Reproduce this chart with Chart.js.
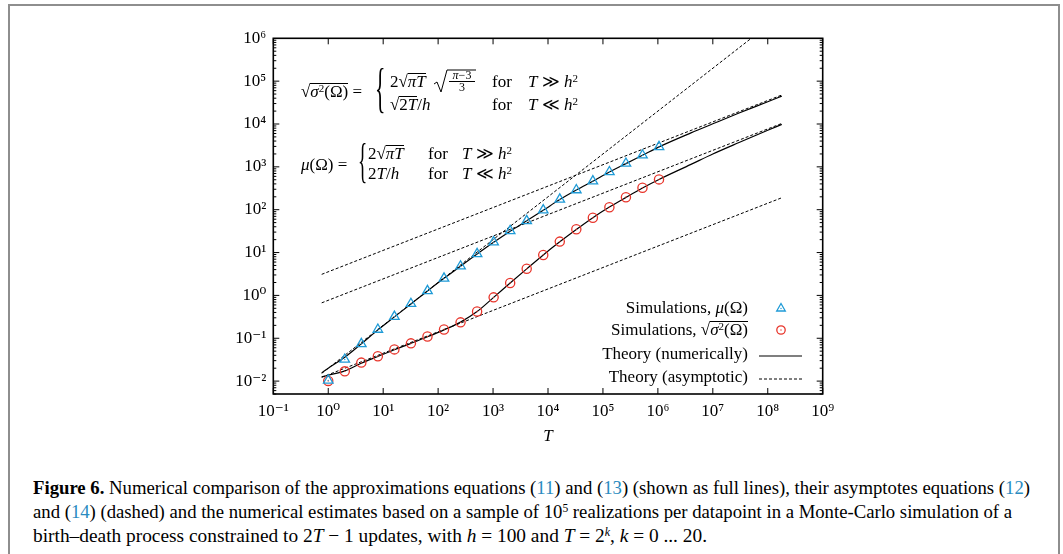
<!DOCTYPE html>
<html>
<head>
<meta charset="utf-8">
<script src="https://cdn.jsdelivr.net/npm/chart.js@4.4.1/dist/chart.umd.min.js"></script>
<style>
  body { margin: 0; background: #fff; }
  #page { position: relative; width: 1063px; height: 554px; overflow: hidden; font-family: "Liberation Serif", "Times New Roman", "DejaVu Serif", serif; color: #000; }
  #frame { position: absolute; left: 8px; top: 4px; width: 1048px; height: 600px; border: 2px solid #8e8e8e; }
  #myChart { position: absolute; left: 0; top: 0; }
  .m { position: absolute; font-size: 17px; line-height: 17px; white-space: nowrap; }
  .m i { font-style: italic; }
  .m sup { font-size: 11px; line-height: 0; vertical-align: 0.45em; }
  .rad { display: inline-block; }
  .ov { display: inline-block; border-top: 1px solid #000; line-height: 13px; padding-top: 1px; }
  .fr { position: absolute; width: 26px; font-size: 12px; line-height: 11px; text-align: center; white-space: nowrap; }
  .fr span { display: block; }
  .fr .num { border-bottom: 0.8px solid #000; }
  .brace { transform: scaleX(0.4); transform-origin: left; }
  .lg { right: 315px; text-align: right; }
  .cap { position: absolute; left: 33px; font-size: 19.5px; line-height: 19.5px; white-space: nowrap; transform-origin: left; }
  .cap .ref { color: #2a8bc0; }
  .cap sup { font-size: 12px; line-height: 0; vertical-align: 0.5em; }
</style>
</head>
<body>
<div id="page">
  <div id="frame"></div>
  <canvas id="myChart" width="1063" height="470"></canvas>

  <!-- equation for the standard deviation -->
  <div class="m" style="left:301px; top:83px"><span class="rad">√</span><span class="ov"><i>σ</i><sup>2</sup>(Ω)</span> =</div>
  <div class="m brace" style="left:375px; top:61px; font-size:54px; line-height:54px">{</div>
  <div class="m" style="left:390px; top:73px">2<span class="rad">√</span><span class="ov"><i>πT</i></span></div>
  <svg style="position:absolute; left:432px; top:66px" width="48" height="30">
    <polyline points="2,18 5,16 9,26 15,4 44,4" fill="none" stroke="#000" stroke-width="1"/>
  </svg>
  <div class="fr" style="left:449px; top:70px"><span class="num"><i>π</i>−3</span><span>3</span></div>
  <div class="m" style="left:390px; top:96px"><span class="rad">√</span><span class="ov">2<i>T</i></span>/<i>h</i></div>
  <div class="m" style="left:492px; top:73px">for</div>
  <div class="m" style="left:492px; top:96px">for</div>
  <div class="m" style="left:528px; top:73px"><i>T</i> ≫ <i>h</i><sup>2</sup></div>
  <div class="m" style="left:528px; top:96px"><i>T</i> ≪ <i>h</i><sup>2</sup></div>

  <!-- equation for the mean -->
  <div class="m" style="left:301px; top:156px"><i>μ</i>(Ω) =</div>
  <div class="m brace" style="left:358px; top:137px; font-size:48px; line-height:48px">{</div>
  <div class="m" style="left:368px; top:145px">2<span class="rad">√</span><span class="ov"><i>πT</i></span></div>
  <div class="m" style="left:368px; top:165px">2<i>T</i>/<i>h</i></div>
  <div class="m" style="left:428px; top:145px">for</div>
  <div class="m" style="left:428px; top:165px">for</div>
  <div class="m" style="left:462px; top:145px"><i>T</i> ≫ <i>h</i><sup>2</sup></div>
  <div class="m" style="left:462px; top:165px"><i>T</i> ≪ <i>h</i><sup>2</sup></div>

  <!-- legend -->
  <div class="m lg" style="top:299px">Simulations, <i>μ</i>(Ω)</div>
  <div class="m lg" style="top:321px">Simulations, <span class="rad">√</span><span class="ov"><i>σ</i><sup>2</sup>(Ω)</span></div>
  <div class="m lg" style="top:345px">Theory (numerically)</div>
  <div class="m lg" style="top:368px">Theory (asymptotic)</div>
  <svg style="position:absolute; left:750px; top:295px" width="60" height="95">
    <polygon points="31,8.5 35.3,16 26.7,16" fill="none" stroke="#1f9bd7" stroke-width="1.3"/>
    <circle cx="31" cy="13.5" r="0.7" fill="#1f9bd7"/>
    <circle cx="31" cy="35" r="4.2" fill="none" stroke="#e8352b" stroke-width="1.3"/>
    <circle cx="31" cy="35" r="0.7" fill="#e8352b"/>
    <line x1="9" y1="61" x2="52" y2="61" stroke="#000" stroke-width="1.2"/>
    <line x1="9" y1="84" x2="52" y2="84" stroke="#000" stroke-width="1" stroke-dasharray="3 2"/>
  </svg>

  <!-- caption -->
  <div class="cap" style="top:478px"><b>Figure 6.</b> Numerical comparison of the approximations equations (<span class="ref">11</span>) and (<span class="ref">13</span>) (shown as full lines), their asymptotes equations (<span class="ref">12</span>)</div>
  <div class="cap" style="top:502px">and (<span class="ref">14</span>) (dashed) and the numerical estimates based on a sample of 10<sup>5</sup> realizations per datapoint in a Monte-Carlo simulation of a</div>
  <div class="cap" style="top:526px">birth–death process constrained to 2<i>T</i> − 1 updates, with <i>h</i> = 100 and <i>T</i> = 2<sup><i>k</i></sup>, <i>k</i> = 0 ... 20.</div>
</div>

<script>
const ctx = document.getElementById("myChart");

// simulated points, T = 2^k
const simT = [1, 2, 4, 8, 16, 32, 64, 128, 256, 512, 1024, 2048, 4096, 8192, 16384, 32768, 65536, 131072, 262144, 524288, 1048576];
const muSim = [0.0104, 0.032, 0.074, 0.16, 0.32, 0.64, 1.28, 2.5, 4.8, 9.3, 17.5, 32, 55, 98, 174, 288, 465, 760, 1200, 1870, 2930];
const sigmaSim = [0.0101, 0.0169, 0.027, 0.038, 0.055, 0.076, 0.11, 0.16, 0.235, 0.42, 0.9, 1.94, 4.2, 8.8, 18, 35, 65, 114, 195, 325, 510];

// theory (numerically)
const theoryT = [0.76, 1, 2, 4, 8, 16, 32, 64, 128, 256, 512, 1024, 2048, 4096, 8192, 16384, 32768, 65536, 131072, 262144, 524288, 1048576, 4e6, 1e7, 3e7, 1e8, 1.8e8];
const muTheory = [0.0157, 0.020, 0.036, 0.074, 0.157, 0.315, 0.63, 1.27, 2.5, 4.8, 9.2, 17.3, 31.5, 55, 97, 172, 287, 462, 755, 1190, 1860, 2920, 6200, 10100, 18000, 33000, 44700];
const sigmaTheory = [0.0125, 0.0137, 0.0173, 0.0262, 0.0375, 0.054, 0.076, 0.108, 0.157, 0.238, 0.42, 0.9, 1.94, 4.15, 8.8, 17.8, 34.5, 65, 115, 194, 322, 508, 1140, 2000, 3700, 7150, 9800];

// asymptotes (straight lines in log-log, end points)
const asymT = [0.76, 1.8e8];
const muAsymLarge = [3.1, 47500];
const muAsymSmall = [0.0152, 3.6e6];
const sigmaAsymLarge = [0.67, 10300];
const sigmaAsymSmall = [0.0123, 190];

// axes
const xTicks = [1e-1, 1e0, 1e1, 1e2, 1e3, 1e4, 1e5, 1e6, 1e7, 1e8, 1e9];
const xTickLabels = ["10⁻¹", "10⁰", "10¹", "10²", "10³", "10⁴", "10⁵", "10⁶", "10⁷", "10⁸", "10⁹"];
const yTicks = [1e-2, 1e-1, 1e0, 1e1, 1e2, 1e3, 1e4, 1e5, 1e6];
const yTickLabels = ["10⁻²", "10⁻¹", "10⁰", "10¹", "10²", "10³", "10⁴", "10⁵", "10⁶"];

const blue = "#1f9bd7";
const red = "#e8352b";
const serif = "'Liberation Serif', 'Times New Roman', 'DejaVu Serif', serif";

function pts(xs, ys) {
  return xs.map((x, i) => ({ x: x, y: ys[i] }));
}

function lineSet(xs, ys, dashed) {
  return {
    data: pts(xs, ys),
    borderColor: "#000",
    borderWidth: dashed ? 1 : 1.2,
    borderDash: dashed ? [3, 2] : [],
    pointRadius: 0,
    cubicInterpolationMode: "monotone",
    fill: false,
  };
}

function markerSet(ys, style, radius, color) {
  return {
    data: pts(simT, ys),
    showLine: false,
    pointStyle: style,
    pointRadius: radius,
    pointBorderWidth: 1.3,
    pointBorderColor: color,
    pointBackgroundColor: "rgba(0,0,0,0)",
    borderColor: color,
  };
}

// little dot in the middle of each marker
function dotSet(ys, color) {
  return {
    data: pts(simT, ys),
    showLine: false,
    pointStyle: "circle",
    pointRadius: 0.7,
    pointBorderWidth: 0,
    pointBackgroundColor: color,
    borderColor: color,
  };
}

// gnuplot style frame with inward ticks on all four sides
const frameTicks = {
  id: "frameTicks",
  afterDatasetsDraw(chart) {
    const c = chart.ctx;
    const a = chart.chartArea;
    const x = chart.scales.x;
    const y = chart.scales.y;
    c.save();
    c.strokeStyle = "#000";
    c.lineWidth = 1;
    c.beginPath();
    xTicks.forEach((v) => {
      const p = x.getPixelForValue(v);
      c.moveTo(p, a.bottom); c.lineTo(p, a.bottom - 6);
      c.moveTo(p, a.top); c.lineTo(p, a.top + 6);
    });
    for (let e = -3; e < 6; e++) {
      for (let m = 1; m < 10; m++) {
        const v = m * Math.pow(10, e);
        if (v < y.min || v > y.max) continue;
        const len = m === 1 ? 6 : 3;
        const p = y.getPixelForValue(v);
        c.moveTo(a.left, p); c.lineTo(a.left + len, p);
        c.moveTo(a.right, p); c.lineTo(a.right - len, p);
      }
    }
    c.stroke();
    c.lineWidth = 1.6;
    c.strokeRect(a.left, a.top, a.right - a.left, a.bottom - a.top);
    c.restore();
  },
};

new Chart(ctx, {
  type: "line",
  data: {
    datasets: [
      dotSet(muSim, blue),
      dotSet(sigmaSim, red),
      markerSet(muSim, "triangle", 5.5, blue),
      markerSet(sigmaSim, "circle", 4.6, red),
      lineSet(theoryT, muTheory, false),
      lineSet(theoryT, sigmaTheory, false),
      lineSet(asymT, muAsymLarge, true),
      lineSet(asymT, muAsymSmall, true),
      lineSet(asymT, sigmaAsymLarge, true),
      lineSet(asymT, sigmaAsymSmall, true),
    ],
  },
  options: {
    responsive: false,
    animation: false,
    devicePixelRatio: 1,
    events: [],
    layout: { padding: { left: 213.3, right: 240.3, top: 38.3, bottom: 16 } },
    plugins: { legend: { display: false }, tooltip: { enabled: false } },
    scales: {
      x: {
        type: "logarithmic",
        min: 0.1,
        max: 1e9,
        grid: { display: false, drawTicks: false },
        border: { display: false },
        afterBuildTicks: (s) => { s.ticks = xTicks.map((v) => ({ value: v })); },
        afterFit: (s) => { s.height = 60; },
        ticks: {
          callback: (v, i) => xTickLabels[i],
          autoSkip: false,
          maxRotation: 0,
          padding: 7,
          color: "#000",
          font: { family: serif, size: 17 },
        },
        title: {
          display: true,
          text: "T",
          color: "#000",
          font: { family: serif, size: 17, style: "italic" },
          padding: { top: 0, bottom: 7 },
        },
      },
      y: {
        type: "logarithmic",
        min: 0.005,
        max: 1e6,
        grid: { display: false, drawTicks: false },
        border: { display: false },
        afterBuildTicks: (s) => { s.ticks = yTicks.map((v) => ({ value: v })); },
        afterFit: (s) => { s.width = 60; },
        ticks: {
          callback: (v, i) => yTickLabels[i],
          autoSkip: false,
          padding: 7,
          color: "#000",
          font: { family: serif, size: 17 },
        },
      },
    },
  },
  plugins: [frameTicks],
});

// fit each caption line to its width in the figure
const capWidths = [997, 979, 674];
document.querySelectorAll(".cap").forEach((el, i) => {
  const w = el.getBoundingClientRect().width;
  el.style.transform = "scaleX(" + (capWidths[i] / w) + ")";
});
</script>
</body>
</html>
